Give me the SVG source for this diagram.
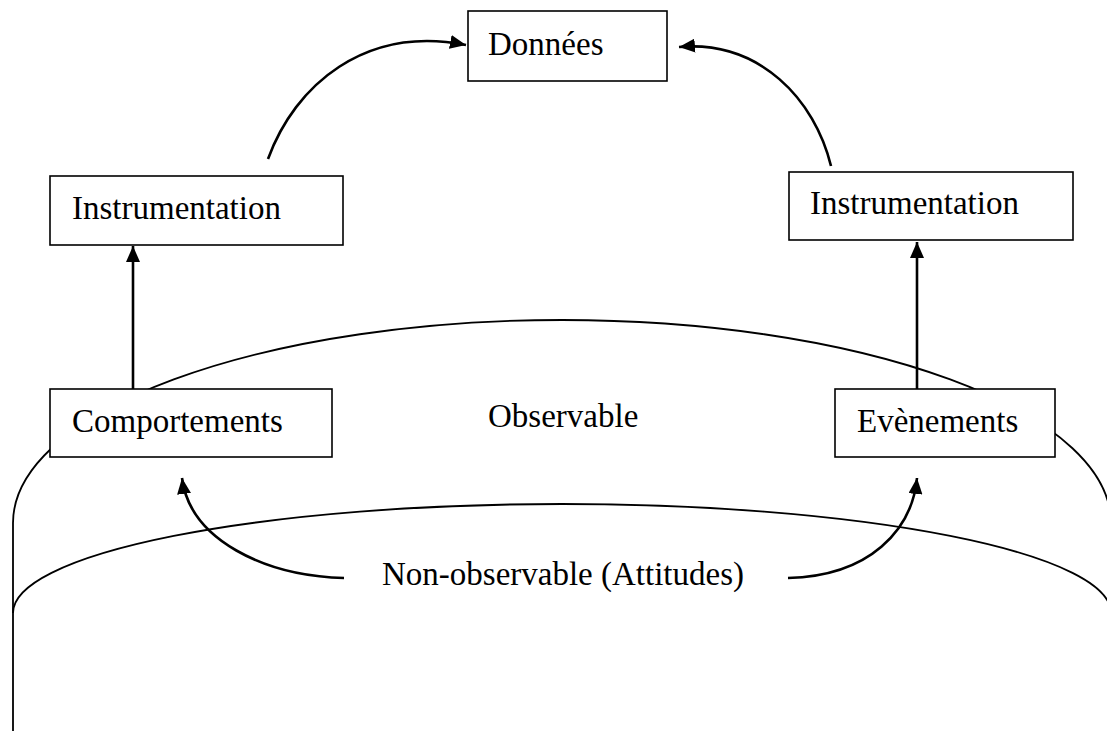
<svg xmlns="http://www.w3.org/2000/svg" width="1107" height="731" viewBox="0 0 1107 731">
<style>
.box{fill:#fff;stroke:#000;stroke-width:1.6}
.lbl{font-family:"Liberation Serif","Times New Roman",serif;font-size:33px;fill:#000}
.arc{fill:none;stroke:#000;stroke-width:1.8}
.arr{fill:none;stroke:#000;stroke-width:2.6;marker-end:url(#ah)}
</style>
<defs>
<marker id="ah" markerUnits="userSpaceOnUse" markerWidth="16" markerHeight="14" refX="16" refY="7" orient="auto">
<path d="M0,0 L16,7 L0,14 z" fill="#000"/>
</marker>
</defs>
<rect width="1107" height="731" fill="#fff"/>
<g id="regions">
<path class="arc" d="M13,731 L13,523 A549,203 0 0,1 1111,523"/>
<path class="arc" d="M13,613 A549,109 0 0,1 1111,613"/>
</g>
<g id="connectors">
<path class="arr" d="M268,159 C295,85 365,25 466,45"/>
<path class="arr" d="M831,166 C815,100 760,40 679,47"/>
<path class="arr" d="M133,389 L133,246"/>
<path class="arr" d="M917,389 L917,242"/>
<path class="arr" d="M344,578 C265,576 190,540 182,478"/>
<path class="arr" d="M788,578 C870,576 912,530 917,478"/>
</g>
<g id="donnees"><rect class="box" x="468" y="11" width="199" height="70"/><text class="lbl" x="488" y="55">Données</text></g>
<g id="instrumentation-left"><rect class="box" x="50" y="176" width="293" height="69"/><text class="lbl" x="72" y="219">Instrumentation</text></g>
<g id="instrumentation-right"><rect class="box" x="789" y="172" width="284" height="68"/><text class="lbl" x="810" y="214">Instrumentation</text></g>
<g id="comportements"><rect class="box" x="50" y="389" width="282" height="68"/><text class="lbl" x="72" y="432">Comportements</text></g>
<g id="evenements"><rect class="box" x="835" y="389" width="220" height="68"/><text class="lbl" x="857" y="432">Evènements</text></g>
<g id="observable"><text class="lbl" x="488" y="427">Observable</text></g>
<g id="non-observable"><text class="lbl" x="382" y="585">Non-observable (Attitudes)</text></g>
</svg>
